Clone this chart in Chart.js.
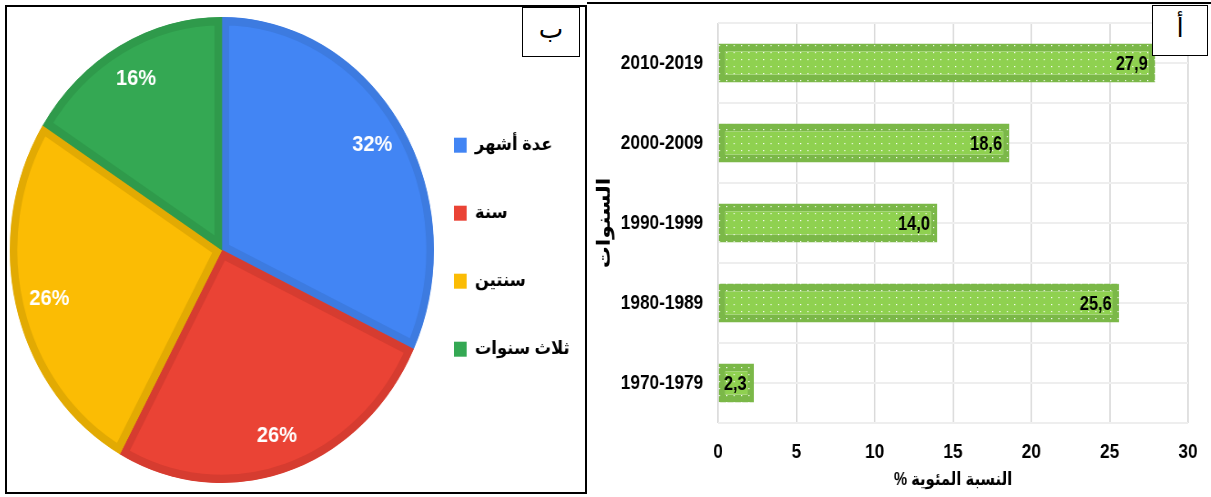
<!DOCTYPE html>
<html lang="ar">
<head>
<meta charset="utf-8">
<title>chart</title>
<script src="https://cdn.jsdelivr.net/npm/chart.js@4.4.1/dist/chart.umd.min.js"></script>
<style>
  html, body { margin: 0; padding: 0; background: #fff; }
  body { width: 1211px; height: 497px; position: relative; overflow: hidden; }
  #leftPanel { position: absolute; left: 5px; top: 5px; width: 578px; height: 485px; border: 2px solid #000; }
  #rightPanel { position: absolute; left: 587px; top: 2px; width: 624px; height: 495px; border-top: 2px solid #000; }
  #pieChart { position: absolute; left: 7px; top: 7px; }
  #barChart { position: absolute; left: 590px; top: 0; }
  .tag { position: absolute; box-sizing: border-box; background: #fff; border: 1.5px solid #000;
         text-align: center; font: 26px "Liberation Serif", "DejaVu Sans", serif; color: #000; z-index: 5; }
  #tagB { left: 522px; top: 7px; width: 58px; height: 50px; line-height: 44px; }
  #tagA { left: 1152px; top: 5px; width: 56px; height: 51px; line-height: 46px; }
</style>
</head>
<body>
<div id="leftPanel"></div>
<div id="rightPanel"></div>
<!-- the source picture is squeezed sideways, so both canvases are drawn wider and shown narrower -->
<canvas id="pieChart" width="635" height="486" style="width:578px;height:486px"></canvas>
<canvas id="barChart" width="757" height="497" style="width:621px;height:497px"></canvas>
<div class="tag" id="tagB">ب</div>
<div class="tag" id="tagA">أ</div>
<script>
// pie (ب)
const pieLabels = ["عدة أشهر", "سنة", "سنتين", "ثلاث سنوات"];
const pieValues = [32, 26, 26, 16];
const pieColors = ["#4285f4", "#ea4335", "#fbbc04", "#34a853"];
const pieBorders = ["#3d7be0", "#d63c30", "#e2aa03", "#2f9a4b"];

// bars (أ)
const barLabels = ["2010-2019", "2000-2009", "1990-1999", "1980-1989", "1970-1979"];
const barValues = [27.9, 18.6, 14.0, 25.6, 2.3];
const xMin = 0;
const xMax = 30;
const xStep = 5;
const xTitle = "النسبة المئوية %\u200F";
const yTitle = "السنوات";

const sans = '"Liberation Sans", Arial, "DejaVu Sans", sans-serif';

const pieValueLabels = {
  id: "pieValueLabels",
  afterDatasetsDraw(chart) {
    const ctx = chart.ctx;
    const meta = chart.getDatasetMeta(0);
    ctx.save();
    ctx.font = "bold 22px " + sans;
    ctx.fillStyle = "#fff";
    ctx.textAlign = "center";
    ctx.textBaseline = "middle";
    meta.data.forEach((arc, i) => {
      const p = arc.getProps(["x", "y", "startAngle", "endAngle", "outerRadius"], true);
      const mid = (p.startAngle + p.endAngle) / 2;
      const r = p.outerRadius * 0.84;
      ctx.fillText(pieValues[i] + "%", p.x + Math.cos(mid) * r, p.y + Math.sin(mid) * r);
    });
    ctx.restore();
  },
};

const pie = new Chart(document.getElementById("pieChart"), {
  type: "pie",
  data: {
    labels: pieLabels,
    datasets: [
      {
        data: pieValues,
        backgroundColor: pieColors,
        borderColor: pieBorders,
        borderWidth: 8,
        borderAlign: "inner",
      },
    ],
  },
  options: {
    responsive: false,
    animation: false,
    events: [],
    layout: { padding: { left: 3, right: 0, top: 10, bottom: 10 } },
    plugins: {
      tooltip: { enabled: false },
      legend: {
        position: "right",
        align: "center",
        title: { display: true, text: "", padding: 4 },
        labels: {
          boxWidth: 14,
          boxHeight: 15,
          padding: 22,
          color: "#000",
          font: { family: sans, size: 18, weight: "bold", lineHeight: "46px" },
          generateLabels: (chart) =>
            Chart.overrides.doughnut.plugins.legend.labels
              .generateLabels(chart)
              .map((item) => ({ ...item, text: [item.text], lineWidth: 0 })),
        },
      },
    },
  },
  plugins: [pieValueLabels],
});

// keep the pie at 466px across: push the legend in from the right edge
pie.options.layout.padding.right = 635 - 3 - 466 - pie.legend.width;
pie.update();

// bars
const barCanvas = document.getElementById("barChart");
const barCtx = barCanvas.getContext("2d");

function dotPattern(base) {
  const c = document.createElement("canvas");
  c.width = 9;
  c.height = 7;
  const g = c.getContext("2d");
  g.fillStyle = base;
  g.fillRect(0, 0, 9, 7);
  g.fillStyle = "rgba(255,255,255,0.95)";
  g.fillRect(4, 3, 1.4, 1.2);
  return barCtx.createPattern(c, "repeat");
}

const barValueLabels = {
  id: "barValueLabels",
  afterDatasetsDraw(chart) {
    const ctx = chart.ctx;
    ctx.save();
    ctx.font = "bold 20px " + sans;
    ctx.fillStyle = "#000";
    ctx.textAlign = "right";
    ctx.textBaseline = "middle";
    chart.getDatasetMeta(0).data.forEach((bar, i) => {
      const label = barValues[i].toFixed(1).replace(".", ",");
      ctx.fillText(label, bar.x - 9, bar.y + 1);
    });
    ctx.restore();
  },
};

const tickFont = { family: sans, size: 21, weight: "bold" };

new Chart(barCanvas, {
  type: "bar",
  data: {
    labels: barLabels,
    datasets: [
      {
        data: barValues,
        backgroundColor: dotPattern("#8fd150"),
        borderColor: dotPattern("#7bb848"),
        borderWidth: 8,
        borderSkipped: false,
        barPercentage: 0.49,
        categoryPercentage: 1,
      },
    ],
  },
  options: {
    indexAxis: "y",
    responsive: false,
    animation: false,
    events: [],
    layout: { padding: { left: 5, right: 28, top: 23, bottom: 4 } },
    scales: {
      x: {
        min: xMin,
        max: xMax,
        ticks: { stepSize: xStep, padding: 17, color: "#000", font: tickFont },
        grid: { color: "#d9d9d9", lineWidth: 1.8, drawTicks: false },
        border: { display: false },
        title: {
          display: true,
          text: xTitle,
          color: "#000",
          font: { family: sans, size: 18, weight: "bold" },
          padding: { top: 0, bottom: 2 },
        },
        afterFit: (s) => {
          s.height = 70;
          s.paddingLeft = 0;
          s.paddingRight = 0;
        },
      },
      y: {
        ticks: { padding: 18, color: "#000", font: tickFont },
        grid: { offset: false, color: "#eeeeee", lineWidth: 2, drawTicks: false },
        border: { display: false },
        title: {
          display: true,
          text: yTitle,
          color: "#000",
          font: { family: sans, size: 22, weight: "bold" },
          padding: 0,
        },
        afterFit: (s) => {
          s.width = 151;
          s.paddingTop = 0;
          s.paddingBottom = 0;
        },
      },
      y2: {
        type: "category",
        position: "right",
        offset: true,
        grid: { offset: true, color: "#eeeeee", lineWidth: 2, drawTicks: false },
        ticks: { display: false },
        border: { display: false },
        afterFit: (s) => {
          s.width = 0;
          s.paddingTop = 0;
          s.paddingBottom = 0;
        },
      },
    },
    plugins: { legend: { display: false }, tooltip: { enabled: false } },
  },
  plugins: [barValueLabels],
});
</script>
</body>
</html>
